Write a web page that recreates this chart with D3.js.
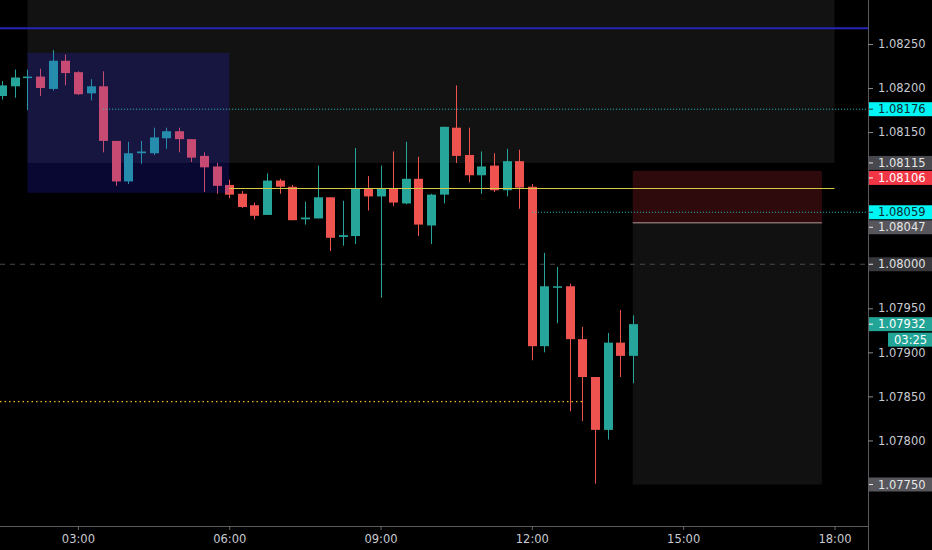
<!DOCTYPE html>
<html><head><meta charset="utf-8">
<script src="https://cdn.jsdelivr.net/npm/d3@7"></script>
<style>html,body{margin:0;padding:0;background:#000;overflow:hidden}</style>
</head><body>
<svg id="c" width="932" height="550"></svg>
<script>
// ---- data ----
const times = ["01:30","01:45","02:00","02:15","02:30","02:45","03:00","03:15","03:30","03:45",
  "04:00","04:15","04:30","04:45","05:00","05:15","05:30","05:45","06:00","06:15",
  "06:30","06:45","07:00","07:15","07:30","07:45","08:00","08:15","08:30","08:45",
  "09:00","09:15","09:30","09:45","10:00","10:15","10:30","10:45","11:00","11:15",
  "11:30","11:45","12:00","12:15","12:30","12:45","13:00","13:15","13:30","13:45","14:00"];
const open  = [1.08191,1.08202,1.08212,1.08213,1.08199,1.08231,1.08218,1.08194,1.08202,1.08140,
  1.08094,1.08126,1.08126,1.08143,1.08151,1.08142,1.08123,1.08111,1.08090,1.08080,
  1.08067,1.08056,1.08095,1.08088,1.08051,1.08052,1.08076,1.08031,1.08032,1.08086,
  1.08077,1.08086,1.08069,1.08097,1.08044,1.08079,1.08155,1.08124,1.08101,1.08112,
  1.08084,1.08117,1.08088,1.07907,1.07974,1.07975,1.07915,1.07872,1.07812,1.07911,1.07896];
const high  = [1.08208,1.08221,1.08221,1.08222,1.08243,1.08238,1.08219,1.08210,1.08219,1.08140,
  1.08139,1.08140,1.08155,1.08155,1.08155,1.08142,1.08127,1.08115,1.08096,1.08083,
  1.08070,1.08103,1.08097,1.08090,1.08071,1.08112,1.08076,1.08072,1.08132,1.08100,
  1.08112,1.08128,1.08139,1.08122,1.08080,1.08156,1.08203,1.08155,1.08128,1.08126,
  1.08131,1.08130,1.08091,1.08013,1.07997,1.07978,1.07929,1.07872,1.07922,1.07948,1.07942];
const low   = [1.08187,1.08189,1.08175,1.08191,1.08197,1.08203,1.08192,1.08186,1.08127,1.08089,
  1.08091,1.08114,1.08124,1.08131,1.08127,1.08116,1.08082,1.08080,1.08075,1.08064,
  1.08051,1.08056,1.08080,1.08050,1.08045,1.08052,1.08015,1.08021,1.08023,1.08061,
  1.07962,1.08066,1.08068,1.08032,1.08023,1.08069,1.08115,1.08093,1.08080,1.08082,
  1.08077,1.08063,1.07891,1.07900,1.07933,1.07833,1.07822,1.07751,1.07801,1.07872,1.07865];
const close = [1.08203,1.08212,1.08213,1.08200,1.08231,1.08217,1.08193,1.08202,1.08140,1.08094,
  1.08126,1.08128,1.08144,1.08151,1.08142,1.08121,1.08110,1.08089,1.08079,1.08065,
  1.08055,1.08095,1.08088,1.08050,1.08053,1.08076,1.08030,1.08033,1.08086,1.08077,
  1.08086,1.08070,1.08097,1.08045,1.08079,1.08156,1.08123,1.08101,1.08111,1.08084,
  1.08117,1.08087,1.07907,1.07975,1.07975,1.07915,1.07872,1.07812,1.07911,1.07896,1.07932];

const timeTicks  = ["03:00","06:00","09:00","12:00","15:00","18:00"];
const priceTicks = [1.0825,1.0820,1.0815,1.0795,1.0790,1.0785,1.0780];
// drawn levels / zones (prices and times only)
const blueLevel = 1.08268;
const roundLevel = 1.08000;
const yellowLevel = 1.08087, yellowFrom = "06:00", yellowTo = "18:00";
const tealLevels = [[1.08176,"03:30"],[1.08059,"12:00"]];
const orangeLevel = 1.07844, orangeTo = "13:00";
const rangeBox = {from:"02:00", to:"06:00", top:1.08240, bottom:1.08081};
const greyZone = {from:"02:00", to:"18:00", bottom:1.08115};
const position = {from:"14:00", to:"17:45", stop:1.08106, entry:1.08047, target:1.07750};
const labelPrices = [1.08176,1.08115,1.08106,1.08059,1.08047,1.08000,1.07932,1.07750];
const labelKinds  = ["cyan","grey1","red","cyan","grey2","grey0","teal","grey2"];
const countdown = "03:25";

// ---- scales ----
const W = 932, H = 550, plotR = 868, plotB = 526;
const parse = d3.timeParse("%H:%M");
const x = d3.scaleTime().domain([parse("00:00"), parse("18:00")]).range([-73.4, 834.5]);
const y = d3.scaleLinear().domain([1.0775, 1.0825]).range([484.5, 44]);
const UP = "#26a69a", DN = "#ef5350";
const FONT = "DejaVu Sans, sans-serif";

const svg = d3.select("#c");
svg.append("rect").attr("width", W).attr("height", H).attr("fill", "#000");
svg.append("defs").append("clipPath").attr("id","plot")
  .append("rect").attr("x",0).attr("y",0).attr("width",plotR).attr("height",plotB);
const g = svg.append("g").attr("clip-path","url(#plot)");

// grey zone (top)
g.append("rect")
  .attr("x", x(parse(greyZone.from))).attr("y", y(1.0830))
  .attr("width", x(parse(greyZone.to)) - x(parse(greyZone.from)))
  .attr("height", y(greyZone.bottom) - y(1.0830))
  .attr("fill", "#ffffff").attr("fill-opacity", 0.07);

// position tool
const px0 = x(parse(position.from)), px1 = x(parse(position.to));
g.append("rect").attr("x", px0).attr("y", y(position.stop))
  .attr("width", px1 - px0).attr("height", y(position.entry) - y(position.stop))
  .attr("fill", "#f23645").attr("fill-opacity", 0.19);
g.append("rect").attr("x", px0).attr("y", y(position.entry))
  .attr("width", px1 - px0).attr("height", y(position.target) - y(position.entry))
  .attr("fill", "#ffffff").attr("fill-opacity", 0.065);
g.append("line").attr("x1", px0).attr("x2", px1)
  .attr("y1", y(position.entry)).attr("y2", y(position.entry))
  .attr("stroke", "#b89a9c").attr("stroke-width", 1);

// round number dashed line
g.append("line").attr("x1",0).attr("x2",plotR).attr("y1",y(roundLevel)).attr("y2",y(roundLevel))
  .attr("stroke","#4a4a4e").attr("stroke-width",1).attr("stroke-dasharray","5,5");

// candles
const data = times.map((t,i)=>({t:parse(t), o:open[i], h:high[i], l:low[i], c:close[i]}));
const bw = 9;
const cg = g.append("g");
data.forEach(d => {
  const col = d.c >= d.o ? UP : DN;
  const cx = Math.round(x(d.t)) + 0.5;
  cg.append("line").attr("x1",cx).attr("x2",cx).attr("y1",y(d.h)).attr("y2",y(d.l))
    .attr("stroke",col).attr("stroke-width",1);
  const top = y(Math.max(d.o,d.c)), bot = y(Math.min(d.o,d.c));
  cg.append("rect").attr("x",cx - bw/2).attr("y",top)
    .attr("width",bw).attr("height",Math.max(1.5, bot-top)).attr("fill",col);
});

// range box overlay
g.append("rect")
  .attr("x", x(parse(rangeBox.from))).attr("y", y(rangeBox.top))
  .attr("width", x(parse(rangeBox.to)) - x(parse(rangeBox.from)))
  .attr("height", y(rangeBox.bottom) - y(rangeBox.top))
  .attr("fill", "#2828ff").attr("fill-opacity", 0.2);

// lines
g.append("line").attr("x1",0).attr("x2",plotR).attr("y1",y(blueLevel)).attr("y2",y(blueLevel))
  .attr("stroke","#2424b8").attr("stroke-width",2);
const yy = Math.round(y(yellowLevel)) + 0.5;
g.append("line").attr("x1",x(parse(yellowFrom))).attr("x2",x(parse(yellowTo)))
  .attr("y1",yy).attr("y2",yy)
  .attr("stroke","#d4cc48").attr("stroke-width",1.2);
tealLevels.forEach(([p,t]) => {
  g.append("line").attr("x1",x(parse(t))).attr("x2",plotR).attr("y1",y(p)).attr("y2",y(p))
    .attr("stroke","#2ec4c4").attr("stroke-width",1).attr("stroke-dasharray","1,2");
});
g.append("line").attr("x1",0).attr("x2",x(parse(orangeTo)))
  .attr("y1",y(orangeLevel)).attr("y2",y(orangeLevel))
  .attr("stroke","#f2b01e").attr("stroke-width",1.2).attr("stroke-dasharray","1.5,3");

// axes frame
svg.append("line").attr("x1",plotR+0.5).attr("x2",plotR+0.5).attr("y1",0).attr("y2",H)
  .attr("stroke","#5a5a5e");
svg.append("line").attr("x1",0).attr("x2",plotR).attr("y1",plotB+0.5).attr("y2",plotB+0.5)
  .attr("stroke","#5a5a5e");

// time axis
const xa = svg.append("g").attr("transform",`translate(0,${plotB})`)
  .call(d3.axisBottom(x).tickValues(timeTicks.map(parse)).tickFormat(d3.timeFormat("%H:%M")).tickSize(4).tickPadding(5));
xa.select(".domain").remove();
xa.selectAll("line").attr("stroke","#6a6a6e");
xa.selectAll("text").attr("fill","#c8cad0").attr("font-family",FONT).attr("font-size","11.5px");

// price axis
const ya = svg.append("g").attr("transform",`translate(${plotR},0)`)
  .call(d3.axisRight(y).tickValues(priceTicks).tickFormat(d3.format(".5f")).tickSize(5).tickPadding(5));
ya.select(".domain").remove();
ya.selectAll("line").attr("stroke","#8a8a8e");
ya.selectAll("text").attr("fill","#c8cad0").attr("font-family",FONT).attr("font-size","11.5px");

// price labels with collision avoidance
const kindStyle = {
  cyan:{bg:"#00f5f5", fg:"#0e2a30"}, red:{bg:"#f23645", fg:"#ffffff"},
  teal:{bg:"#22a596", fg:"#ffffff"}, grey0:{bg:"#38383c", fg:"#e0e0e0"},
  grey1:{bg:"#48484e", fg:"#e6e6e6"}, grey2:{bg:"#56565c", fg:"#e6e6e6"}
};
const LH = 15;
const labels = labelPrices.map((p,i)=>({p, kind:labelKinds[i], yc:y(p)})).sort((a,b)=>a.yc-b.yc);
for (let i=1;i<labels.length;i++){
  if (labels[i].yc - labels[i-1].yc < LH) labels[i].yc = labels[i-1].yc + LH;
}
const lg = svg.append("g");
labels.forEach(l => {
  const s = kindStyle[l.kind];
  lg.append("rect").attr("x",plotR+1).attr("y",l.yc-LH/2+0.5).attr("width",W-plotR-1).attr("height",LH-1)
    .attr("fill",s.bg);
  lg.append("line").attr("x1",plotR+1).attr("x2",plotR+5).attr("y1",l.yc).attr("y2",l.yc)
    .attr("stroke",s.fg);
  lg.append("text").attr("x",plotR+10).attr("y",l.yc).attr("dy","0.36em")
    .attr("fill",s.fg).attr("font-family",FONT).attr("font-size","11.5px")
    .text(d3.format(".5f")(l.p));
  if (l.kind === "teal") {
    lg.append("rect").attr("x",888).attr("y",l.yc+LH/2+1).attr("width",W-888).attr("height",LH-1)
      .attr("fill",s.bg);
    lg.append("text").attr("x",894).attr("y",l.yc+LH+0.5).attr("dy","0.36em")
      .attr("fill",s.fg).attr("font-family",FONT).attr("font-size","11.5px").text(countdown);
  }
});
</script>
</body></html>
